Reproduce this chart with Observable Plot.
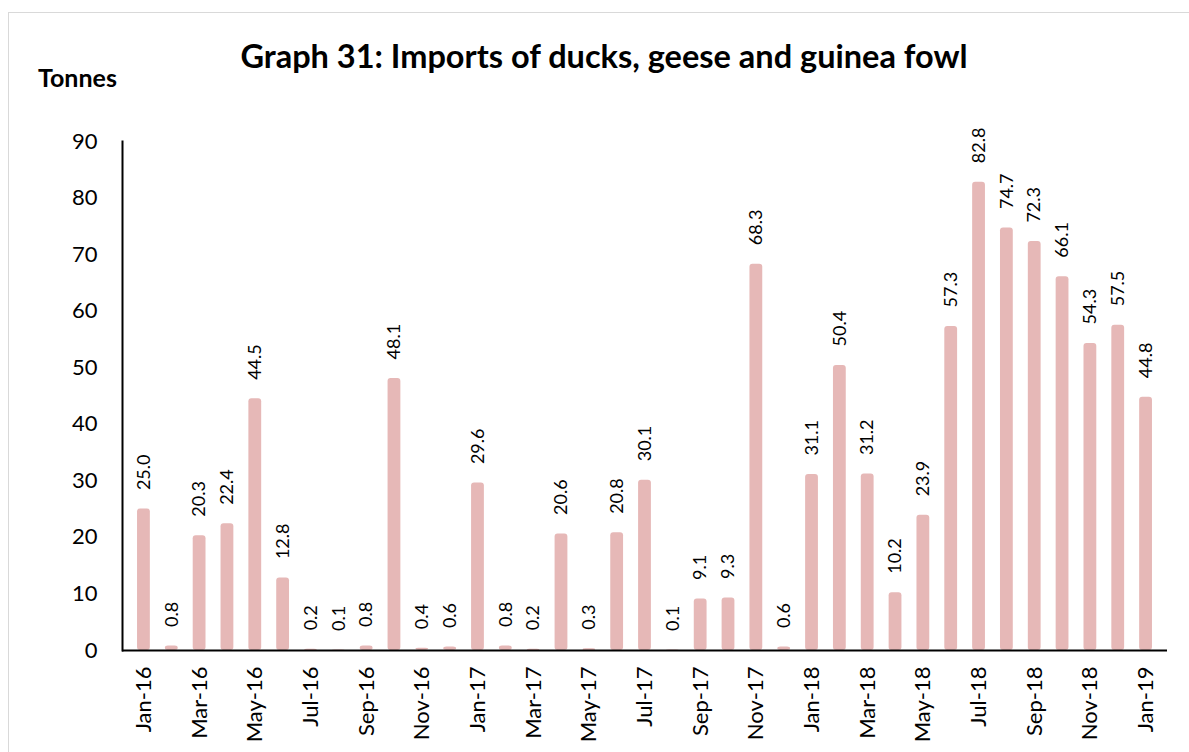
<!DOCTYPE html>
<html><head><meta charset="utf-8">
<script src="https://cdn.jsdelivr.net/npm/d3@7"></script>
<script src="https://cdn.jsdelivr.net/npm/@observablehq/plot@0.6"></script>
<style>
body{margin:0;background:#fff;overflow:hidden;font-family:Lato,sans-serif}
#wrap{position:relative;width:1189px;height:752px;overflow:hidden}
#border{position:absolute;left:8px;top:12px;width:1400px;height:1000px;border:1px solid #d9d9d9}
#title{position:absolute;left:0;width:1208px;text-align:center;top:36px;font-weight:bold;font-size:32.5px;line-height:40px;color:#000}
#unit{position:absolute;left:38px;top:62px;font-weight:bold;font-size:25px;line-height:30px;color:#000}
#chart{position:absolute;left:0;top:0}
</style></head><body>
<div id="wrap"><div id="border"></div><div id="chart"></div><div id="title">Graph 31: Imports of ducks, geese and guinea fowl</div><div id="unit">Tonnes</div></div>
<script>
const months = ["Jan-16","Feb-16","Mar-16","Apr-16","May-16","Jun-16","Jul-16","Aug-16","Sep-16","Oct-16","Nov-16","Dec-16",
  "Jan-17","Feb-17","Mar-17","Apr-17","May-17","Jun-17","Jul-17","Aug-17","Sep-17","Oct-17","Nov-17","Dec-17",
  "Jan-18","Feb-18","Mar-18","Apr-18","May-18","Jun-18","Jul-18","Aug-18","Sep-18","Oct-18","Nov-18","Dec-18","Jan-19"];
const values = [25.0,0.8,20.3,22.4,44.5,12.8,0.2,0.1,0.8,48.1,0.4,0.6,
  29.6,0.8,0.2,20.6,0.3,20.8,30.1,0.1,9.1,9.3,68.3,0.6,
  31.1,50.4,31.2,10.2,23.9,57.3,82.8,74.7,72.3,66.1,54.3,57.5,44.8];
const tickLabels = ["Jan-16","Mar-16","May-16","Jul-16","Sep-16","Nov-16","Jan-17","Mar-17","May-17","Jul-17","Sep-17","Nov-17",
  "Jan-18","Mar-18","May-18","Jul-18","Sep-18","Nov-18","Jan-19"];
const yTicks = [0,10,20,30,40,50,60,70,80,90];
const data = months.map((m,i)=>({month:m, value:values[i]}));
const chart = Plot.plot({
  width:1189, height:752, marginLeft:122, marginRight:22, marginTop:141, marginBottom:102,
  style:{fontFamily:"Lato, sans-serif", background:"transparent", color:"#000"},
  x:{domain:months, padding:0.54},
  y:{domain:[0,90]},
  marks:[
    Plot.barY(data,{x:"month", y:"value", fill:"#e6b8b7", rx:3}),
    Plot.text(data,{x:"month", y:"value", text:d=>d.value.toFixed(1), rotate:-90, textAnchor:"start", lineAnchor:"middle", dy:-19, fontSize:18, fill:"#000"}),
    Plot.axisY({ticks:yTicks, tickSize:0, tickPadding:25, fontSize:22, label:null, tickFormat:d=>String(d)}),
    Plot.axisX({ticks:tickLabels, tickSize:0, tickPadding:16, tickRotate:-90, fontSize:22, label:null}),
    Plot.ruleY([0],{stroke:"#000", strokeWidth:2}),
    Plot.frame({anchor:"left", stroke:"#000", strokeWidth:2})
  ]
});
document.getElementById("chart").appendChild(chart);
</script>
</body></html>
